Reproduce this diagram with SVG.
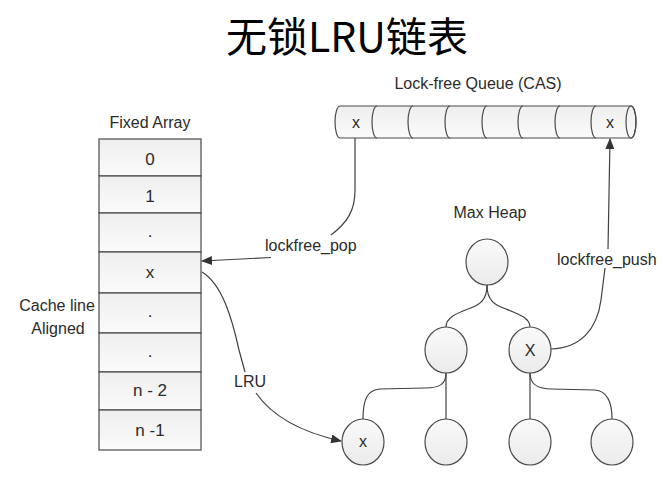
<svg xmlns="http://www.w3.org/2000/svg" width="670" height="484" viewBox="0 0 670 484">
<style>
.t{font-family:"Liberation Sans",Arial,sans-serif;font-size:16px;fill:#2b2b2b}
.a{font-size:17px}
.m{text-anchor:middle}
.cell{fill:url(#g);stroke:#4a4a4a;stroke-width:1.2}
.node{fill:url(#g2);stroke:#4a4a4a;stroke-width:1.2}
.ln{fill:none;stroke:#404040;stroke-width:1.2}
.q{fill:none;stroke:#4a4a4a;stroke-width:1.2}
</style>
<defs>
<linearGradient id="g" x1="0" y1="0" x2="0" y2="1"><stop offset="0" stop-color="#eeeeee"/><stop offset="1" stop-color="#fbfbfb"/></linearGradient>
<linearGradient id="g2" x1="0" y1="0" x2="0" y2="1"><stop offset="0" stop-color="#fafafa"/><stop offset="1" stop-color="#ebebeb"/></linearGradient>
<marker id="ah" markerUnits="userSpaceOnUse" markerWidth="11" markerHeight="9" refX="10" refY="4.5" orient="auto"><path d="M0,0 L11,4.5 L0,9 z" fill="#333"/></marker>
</defs>
<rect width="670" height="484" fill="#fff"/>
<text x="347" y="52" font-family="'Noto Sans CJK SC','Liberation Sans',sans-serif" font-size="41" text-anchor="middle" fill="#000">无锁LRU链表</text>

<g id="array">
<text class="t m" x="150" y="128">Fixed Array</text>
<rect class="cell" x="99" y="139" width="102" height="37"/>
<rect class="cell" x="99" y="176" width="102" height="37"/>
<rect class="cell" x="99" y="213" width="102" height="39"/>
<rect class="cell" x="99" y="252" width="102" height="41"/>
<rect class="cell" x="99" y="293" width="102" height="40"/>
<rect class="cell" x="99" y="333" width="102" height="39"/>
<rect class="cell" x="99" y="372" width="102" height="38"/>
<rect class="cell" x="99" y="410" width="102" height="40"/>
<text class="t a m" x="150" y="165">0</text>
<text class="t a m" x="150" y="202">1</text>
<text class="t a m" x="150" y="237">.</text>
<text class="t a m" x="150" y="278">x</text>
<text class="t a m" x="150" y="317">.</text>
<text class="t a m" x="150" y="357">.</text>
<text class="t a m" x="150" y="396">n - 2</text>
<text class="t a m" x="150" y="436">n -1</text>
</g>

<g id="cacheline-label">
<text class="t m" x="57" y="311">Cache line</text>
<text class="t m" x="58" y="334">Aligned</text>
</g>

<g id="queue">
<text class="t m" x="478" y="89">Lock-free Queue (CAS)</text>
<path d="M340,106 L631,106 A5,16 0 0 1 631,138 L340,138 A5,16 0 0 1 340,106 Z" fill="url(#g)" stroke="#4a4a4a" stroke-width="1.2"/>
<ellipse cx="631" cy="122" rx="5" ry="16" class="q"/>
<path class="q" d="M377,106 A5,16 0 0 0 377,138 M413,106 A5,16 0 0 0 413,138 M450,106 A5,16 0 0 0 450,138 M487,106 A5,16 0 0 0 487,138 M523,106 A5,16 0 0 0 523,138 M560,106 A5,16 0 0 0 560,138 M596,106 A5,16 0 0 0 596,138"/>
<text class="t m" x="356" y="128">x</text>
<text class="t m" x="610" y="128">x</text>
</g>

<g id="heap">
<text class="t m" x="490" y="218">Max Heap</text>
<g id="n-root"><ellipse class="node" cx="487" cy="262" rx="21" ry="23"/></g>
<g id="n-l"><ellipse class="node" cx="446" cy="350" rx="21" ry="23"/></g>
<g id="n-r"><ellipse class="node" cx="530" cy="350" rx="21" ry="23"/><text class="t m" x="530" y="356">X</text></g>
<g id="n-x"><ellipse class="node" cx="363" cy="442" rx="21" ry="23"/><text class="t m" x="363" y="447">x</text></g>
<g id="n-ll"><ellipse class="node" cx="446" cy="442" rx="21" ry="23"/></g>
<g id="n-rl"><ellipse class="node" cx="530" cy="442" rx="21" ry="23"/></g>
<g id="n-rr"><ellipse class="node" cx="612" cy="442" rx="21" ry="23"/></g>
</g>

<g id="connectors">
<path class="ln" d="M487,285 C487,300 480,305 468,309 C455,314 446,318 446,327"/>
<path class="ln" d="M487,285 C487,300 494,305 506,309 C519,314 530,318 530,327"/>
<path class="ln" d="M446,373 L446,419"/>
<path class="ln" d="M446,373 C446,384 440,388 425,388 L380,389 C368,390 363,398 363,419"/>
<path class="ln" d="M530,373 L530,419"/>
<path class="ln" d="M530,373 C530,385 538,389 552,389 L595,390 C606,391 612,400 612,419"/>
<path class="ln" d="M355,138 L355,190 C355,210 348,222 331,235"/>
<text class="t" x="265" y="251">lockfree_pop</text>
<path class="ln" d="M271,257.5 L202,261" marker-end="url(#ah)"/>
<path class="ln" d="M202,272 C222,284 232,318 239,350 L245,372"/>
<text class="t" x="234" y="387">LRU</text>
<path class="ln" d="M256,393 C272,416 300,432 341,441" marker-end="url(#ah)"/>
<path class="ln" d="M551,349 C580,348 597,330 601,300 L605,268"/>
<text class="t" x="557" y="265">lockfree_push</text>
<path class="ln" d="M608,249 L610,139" marker-end="url(#ah)"/>
</g>
</svg>
